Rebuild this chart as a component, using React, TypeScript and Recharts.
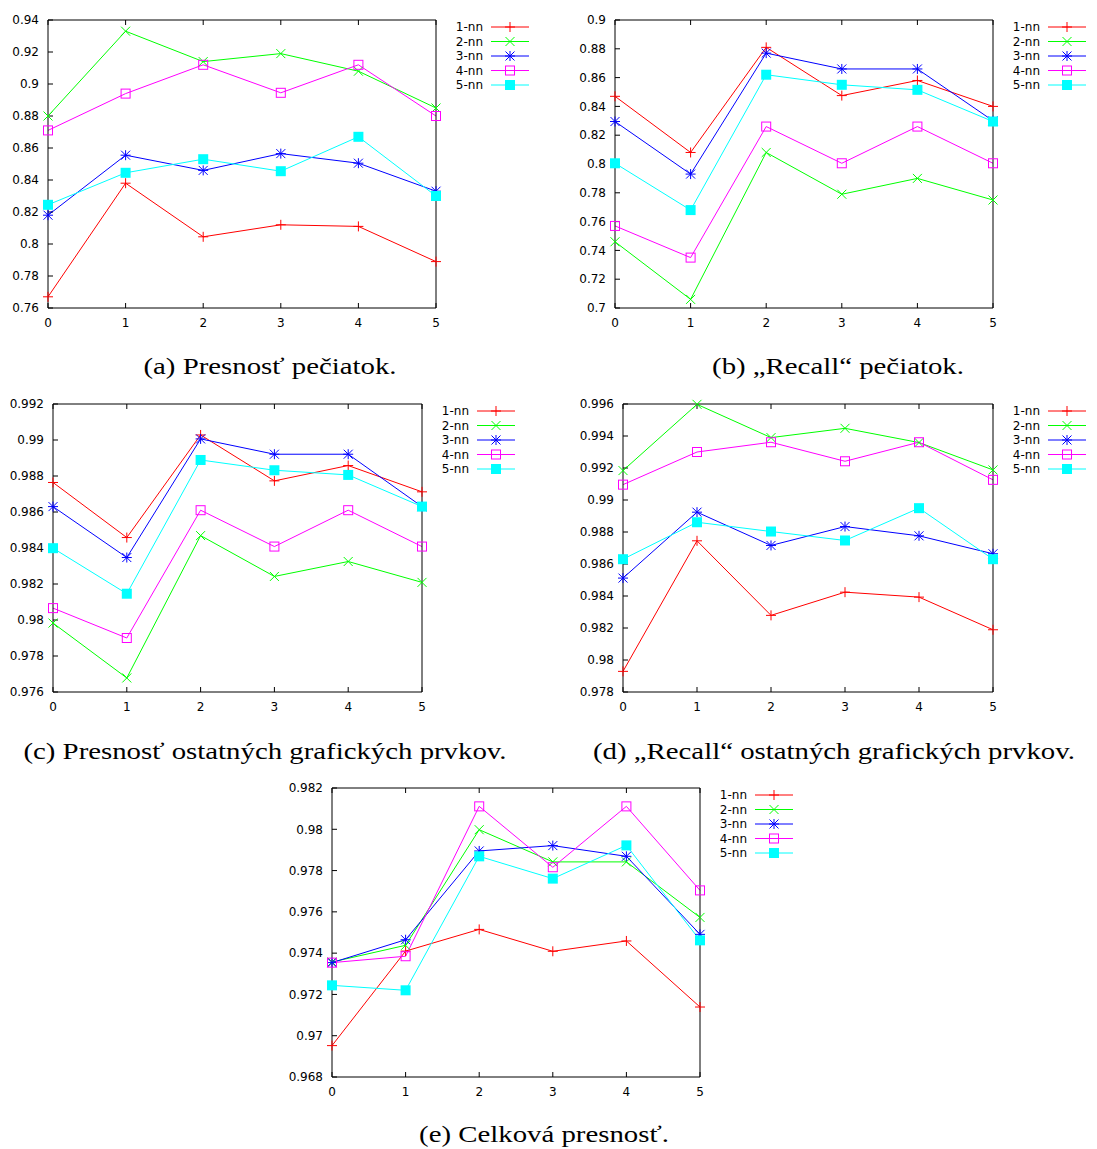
import React from "react";
import { LineChart, Line, XAxis, YAxis, Legend } from "recharts";

const X_VALUES = [0, 1, 2, 3, 4, 5];
const SERIES_NAMES = ["1-nn", "2-nn", "3-nn", "4-nn", "5-nn"];
const SERIES_COLORS = ["#ff0000", "#00ff00", "#0000ff", "#ff00ff", "#00ffff"];
const SERIES_MARKERS = ["plus", "cross", "star", "box", "fbox"];

// (a) Presnosť pečiatok
const stampPrecision1nn = [0.767, 0.838, 0.8045, 0.812, 0.811, 0.789];
const stampPrecision2nn = [0.88, 0.933, 0.914, 0.919, 0.908, 0.885];
const stampPrecision3nn = [0.818, 0.8555, 0.846, 0.8565, 0.8505, 0.833];
const stampPrecision4nn = [0.871, 0.894, 0.912, 0.8945, 0.912, 0.88];
const stampPrecision5nn = [0.8245, 0.8445, 0.853, 0.8455, 0.867, 0.83];
const stampPrecisionTicks = [0.76, 0.78, 0.8, 0.82, 0.84, 0.86, 0.88, 0.9, 0.92, 0.94];

// (b) Recall pečiatok
const stampRecall1nn = [0.847, 0.808, 0.881, 0.8475, 0.858, 0.84];
const stampRecall2nn = [0.746, 0.706, 0.808, 0.779, 0.79, 0.775];
const stampRecall3nn = [0.8295, 0.793, 0.877, 0.866, 0.866, 0.83];
const stampRecall4nn = [0.757, 0.735, 0.826, 0.8005, 0.826, 0.8005];
const stampRecall5nn = [0.8005, 0.768, 0.862, 0.855, 0.8515, 0.8295];
const stampRecallTicks = [0.7, 0.72, 0.74, 0.76, 0.78, 0.8, 0.82, 0.84, 0.86, 0.88, 0.9];

// (c) Presnosť ostatných grafických prvkov
const otherPrecision1nn = [0.98764, 0.98458, 0.99028, 0.98773, 0.98858, 0.98712];
const otherPrecision2nn = [0.97983, 0.97678, 0.98469, 0.98242, 0.98325, 0.98209];
const otherPrecision3nn = [0.9863, 0.98347, 0.99006, 0.98921, 0.98921, 0.9863];
const otherPrecision4nn = [0.98066, 0.979, 0.9861, 0.98408, 0.9861, 0.98408];
const otherPrecision5nn = [0.98399, 0.98146, 0.98889, 0.98832, 0.98806, 0.9863];
const otherPrecisionTicks = [0.976, 0.978, 0.98, 0.982, 0.984, 0.986, 0.988, 0.99, 0.992];

// (d) Recall ostatných grafických prvkov
const otherRecall1nn = [0.97929, 0.98745, 0.98279, 0.98424, 0.98393, 0.98189];
const otherRecall2nn = [0.99184, 0.99598, 0.9939, 0.99448, 0.99359, 0.99188];
const otherRecall3nn = [0.98512, 0.98924, 0.98716, 0.98834, 0.98776, 0.98664];
const otherRecall4nn = [0.99096, 0.993, 0.99361, 0.99242, 0.99361, 0.99126];
const otherRecall5nn = [0.9863, 0.98861, 0.98803, 0.98747, 0.98949, 0.9863];
const otherRecallTicks = [0.978, 0.98, 0.982, 0.984, 0.986, 0.988, 0.99, 0.992, 0.994, 0.996];

// (e) Celková presnosť
const overall1nn = [0.96952, 0.9741, 0.97515, 0.97409, 0.97459, 0.97139];
const overall2nn = [0.97357, 0.97438, 0.97998, 0.97842, 0.97842, 0.97573];
const overall3nn = [0.97354, 0.97465, 0.97895, 0.97921, 0.97869, 0.97491];
const overall4nn = [0.97354, 0.97385, 0.98111, 0.97816, 0.98111, 0.97704];
const overall5nn = [0.97244, 0.9722, 0.97869, 0.97761, 0.97922, 0.97462];
const overallTicks = [0.968, 0.97, 0.972, 0.974, 0.976, 0.978, 0.98, 0.982];

const SANS = "'DejaVu Sans', sans-serif";
const SERIF = "'Liberation Serif', serif";

const AXIS_LEFT = 48;
const PAD_TOP = 20;
const PAD_RIGHT = 110;
const PAD_BOTTOM = 30;

function Marker({ shape, cx, cy, color }: { shape: string; cx: number; cy: number; color: string }) {
  const h = 4.5;
  if (shape === "plus") {
    return (
      <g stroke={color} strokeWidth={1}>
        <line x1={cx - 5} y1={cy} x2={cx + 5} y2={cy} />
        <line x1={cx} y1={cy - 5} x2={cx} y2={cy + 5} />
      </g>
    );
  }
  if (shape === "cross") {
    return (
      <g stroke={color} strokeWidth={1}>
        <line x1={cx - h} y1={cy - h} x2={cx + h} y2={cy + h} />
        <line x1={cx - h} y1={cy + h} x2={cx + h} y2={cy - h} />
      </g>
    );
  }
  if (shape === "star") {
    return (
      <g stroke={color} strokeWidth={1}>
        <line x1={cx - 5} y1={cy} x2={cx + 5} y2={cy} />
        <line x1={cx} y1={cy - 5} x2={cx} y2={cy + 5} />
        <line x1={cx - h} y1={cy - h} x2={cx + h} y2={cy + h} />
        <line x1={cx - h} y1={cy + h} x2={cx + h} y2={cy - h} />
      </g>
    );
  }
  if (shape === "box") {
    return <rect x={cx - h} y={cy - h} width={2 * h} height={2 * h} fill="none" stroke={color} strokeWidth={1} />;
  }
  return <rect x={cx - 5} y={cy - 5} width={10} height={10} fill={color} stroke="none" />;
}

function KeyBox() {
  return (
    <svg width={PAD_RIGHT} height={80} style={{ display: "block", overflow: "visible" }}>
      {SERIES_NAMES.map((name, i) => {
        const y = 7 + i * 14.5;
        return (
          <g key={name}>
            <text x={47} y={y} textAnchor="end" dominantBaseline="central" fontFamily={SANS} fontSize={12} fill="#000">
              {name}
            </text>
            <line x1={55} y1={y} x2={93} y2={y} stroke={SERIES_COLORS[i]} strokeWidth={1} />
            <Marker shape={SERIES_MARKERS[i]} cx={74} cy={y} color={SERIES_COLORS[i]} />
          </g>
        );
      })}
    </svg>
  );
}

interface PanelProps {
  plotLeft: number;
  plotTop: number;
  plotW: number;
  plotH: number;
  series: number[][];
  ticks: number[];
}

function Panel({ plotLeft, plotTop, plotW, plotH, series, ticks }: PanelProps) {
  const data = X_VALUES.map((x, i) => {
    const row: Record<string, number> = { x };
    series.forEach((s, k) => {
      row["s" + k] = s[i];
    });
    return row;
  });
  const domain = [ticks[0], ticks[ticks.length - 1]];
  const tickStyle = { fill: "#000", fontSize: 12, fontFamily: SANS };
  return (
    <div style={{ position: "absolute", left: plotLeft - AXIS_LEFT, top: plotTop - PAD_TOP }}>
      <LineChart
        width={AXIS_LEFT + plotW + PAD_RIGHT}
        height={PAD_TOP + plotH + PAD_BOTTOM}
        data={data}
        margin={{ top: PAD_TOP - 1, right: PAD_RIGHT - 1, bottom: 0, left: 0 }}
      >
        <XAxis
          xAxisId="bottom"
          dataKey="x"
          type="number"
          domain={[0, 5]}
          ticks={X_VALUES}
          height={PAD_BOTTOM}
          stroke="#000"
          tickSize={-5}
          tickMargin={15}
          tick={tickStyle}
        />
        <XAxis
          xAxisId="top"
          orientation="top"
          dataKey="x"
          type="number"
          domain={[0, 5]}
          ticks={X_VALUES}
          height={1}
          stroke="#000"
          tickSize={-5}
          tickFormatter={() => ""}
        />
        <YAxis
          yAxisId="left"
          type="number"
          domain={domain}
          ticks={ticks}
          width={AXIS_LEFT}
          stroke="#000"
          tickSize={-5}
          tickMargin={14}
          tick={tickStyle}
          tickFormatter={(v) => String(v)}
        />
        <YAxis
          yAxisId="right"
          orientation="right"
          type="number"
          domain={domain}
          ticks={ticks}
          width={1}
          stroke="#000"
          tickSize={-5}
          tickFormatter={() => ""}
        />
        {series.map((_, k) => (
          <Line
            key={k}
            xAxisId="bottom"
            yAxisId="left"
            dataKey={"s" + k}
            name={SERIES_NAMES[k]}
            type="linear"
            stroke={SERIES_COLORS[k]}
            strokeWidth={1}
            isAnimationActive={false}
            activeDot={false}
            dot={(p: any) => (
              <Marker key={k + "-" + p.index} shape={SERIES_MARKERS[k]} cx={p.cx} cy={p.cy} color={SERIES_COLORS[k]} />
            )}
          />
        ))}
        <Legend
          layout="vertical"
          align="center"
          verticalAlign="middle"
          content={() => <KeyBox />}
          wrapperStyle={{ left: AXIS_LEFT + plotW, top: PAD_TOP, width: PAD_RIGHT, height: 80 }}
        />
      </LineChart>
    </div>
  );
}

function Caption({ cx, top, children }: { cx: number; top: number; children: React.ReactNode }) {
  return (
    <div
      style={{
        position: "absolute",
        left: cx - 300,
        top,
        width: 600,
        textAlign: "center",
        fontFamily: SERIF,
        fontSize: 24,
        lineHeight: "28px",
        color: "#000",
        whiteSpace: "nowrap",
        transform: "scaleX(1.2)",
        transformOrigin: "50% 50%",
      }}
    >
      {children}
    </div>
  );
}

export default function App() {
  return (
    <div style={{ position: "absolute", left: 0, top: 0, width: 1097, height: 1149, background: "#fff" }}>
      <Panel
        plotLeft={48}
        plotTop={20}
        plotW={388}
        plotH={288}
        ticks={stampPrecisionTicks}
        series={[stampPrecision1nn, stampPrecision2nn, stampPrecision3nn, stampPrecision4nn, stampPrecision5nn]}
      />
      <Panel
        plotLeft={615}
        plotTop={20}
        plotW={378}
        plotH={288}
        ticks={stampRecallTicks}
        series={[stampRecall1nn, stampRecall2nn, stampRecall3nn, stampRecall4nn, stampRecall5nn]}
      />
      <Panel
        plotLeft={53}
        plotTop={404}
        plotW={369}
        plotH={288}
        ticks={otherPrecisionTicks}
        series={[otherPrecision1nn, otherPrecision2nn, otherPrecision3nn, otherPrecision4nn, otherPrecision5nn]}
      />
      <Panel
        plotLeft={623}
        plotTop={404}
        plotW={370}
        plotH={288}
        ticks={otherRecallTicks}
        series={[otherRecall1nn, otherRecall2nn, otherRecall3nn, otherRecall4nn, otherRecall5nn]}
      />
      <Panel
        plotLeft={332}
        plotTop={788}
        plotW={368}
        plotH={289}
        ticks={overallTicks}
        series={[overall1nn, overall2nn, overall3nn, overall4nn, overall5nn]}
      />
      <Caption cx={270} top={352}>(a) Presnosť pečiatok.</Caption>
      <Caption cx={838} top={352}>(b) „Recall“ pečiatok.</Caption>
      <Caption cx={265} top={737}>(c) Presnosť ostatných grafických prvkov.</Caption>
      <Caption cx={834} top={737}>(d) „Recall“ ostatných grafických prvkov.</Caption>
      <Caption cx={544} top={1120}>(e) Celková presnosť.</Caption>
    </div>
  );
}
